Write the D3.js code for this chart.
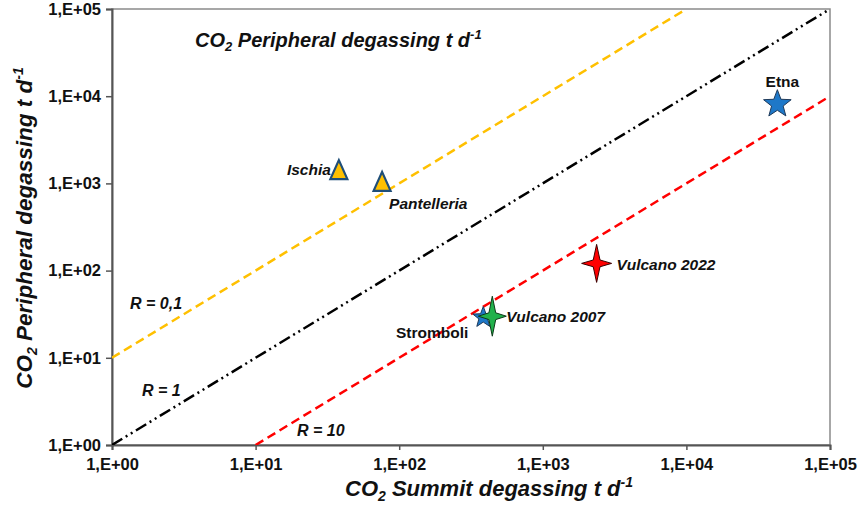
<!DOCTYPE html>
<html><head><meta charset="utf-8">
<script src="https://cdn.jsdelivr.net/npm/d3@7"></script>
<style>
body{margin:0;background:#fff;}
text{font-family:Arial,"Liberation Sans",sans-serif;}
</style></head>
<body><svg id="c" width="858" height="512"></svg>
<script>
// ---- data ----
const volcanoes   = ["Ischia","Pantelleria","Etna","Vulcano 2022","Stromboli","Vulcano 2007"];
const summitFlux  = [38, 76, 43000, 2370, 385, 445];        // t/d
const periphFlux  = [1420, 1040, 8100, 121, 29, 30];        // t/d
const ratioValues = [0.1, 1, 10];
const ratioLabels = ["R = 0,1", "R = 1", "R = 10"];
const tickValues  = [1, 10, 100, 1000, 10000, 100000];
const tickLabels  = ["1,E+00","1,E+01","1,E+02","1,E+03","1,E+04","1,E+05"];

// ---- styles ----
const markerStyle = {
  "Ischia":       {shape:"tri",  fill:"#FFC000", stroke:"#1F4E79", r:10, lx:-8, ly:5, anchor:"end", italic:true},
  "Pantelleria":  {shape:"tri",  fill:"#FFC000", stroke:"#1F4E79", r:10, lx:7, ly:27, anchor:"start", italic:true},
  "Etna":         {shape:"star5",fill:"#1E78C8", stroke:"#1F3A5A", r:14.5, lx:5, ly:-17, anchor:"middle", italic:false},
  "Vulcano 2022": {shape:"star4",fill:"#FF0000", stroke:"#3a0000", rx:15, ry:19, lx:20, ly:7, anchor:"start", italic:true},
  "Stromboli":    {shape:"star5",fill:"#1E78C8", stroke:"#1F3A5A", r:11, lx:-15, ly:21, anchor:"end", italic:false},
  "Vulcano 2007": {shape:"star4",fill:"#22B14C", stroke:"#0c3a18", rx:14, ry:20, lx:14, ly:6, anchor:"start", italic:true}
};
const lineStyle = [
  {color:"#FFC000", dash:"9,5", lx:130, ly:309},
  {color:"#000000", dash:"12,4,2,4,2,4", lx:142, ly:396},
  {color:"#FF0000", dash:"9,5", lx:297, ly:436}
];

const svg = d3.select("#c");
const m = {l:112, r:28, t:9, b:67};
const W = 858, H = 512;
const x = d3.scaleLog().domain([1,1e5]).range([m.l, W-m.r]);
const y = d3.scaleLog().domain([1,1e5]).range([H-m.b, m.t]);

// frame
svg.append("rect").attr("x",x(1)).attr("y",y(1e5)).attr("width",x(1e5)-x(1)).attr("height",y(1)-y(1e5))
  .attr("fill","none").attr("stroke","#8a8a8a").attr("stroke-width",1.5);

// axes
const xAxis = d3.axisBottom(x).tickValues(tickValues).tickFormat((d,i)=>tickLabels[i]).tickSize(5).tickPadding(8);
const yAxis = d3.axisLeft(y).tickValues(tickValues).tickFormat((d,i)=>tickLabels[i]).tickSize(6).tickPadding(5);
const gx = svg.append("g").attr("transform",`translate(0,${y(1)})`).call(xAxis);
const gy = svg.append("g").attr("transform",`translate(${x(1)},0)`).call(yAxis);
[gx,gy].forEach(g=>{
  g.select(".domain").attr("stroke","#555").attr("stroke-width",2);
  g.selectAll(".tick line").attr("stroke","#555").attr("stroke-width",1.5);
  g.selectAll(".tick text").attr("font-size",16.5).attr("font-weight","bold").attr("fill","#111")
    .attr("font-family","Arial,'Liberation Sans',sans-serif");
});

// ratio lines  (peripheral = summit / R)
svg.append("clipPath").attr("id","pc").append("rect")
  .attr("x",x(1)).attr("y",y(1e5)).attr("width",x(1e5)-x(1)).attr("height",y(1)-y(1e5));
ratioValues.forEach((R,i)=>{
  const x0 = Math.max(1, R*1), x1 = Math.min(1e5, R*1e5);
  svg.append("line").attr("clip-path","url(#pc)")
    .attr("x1",x(x0)).attr("y1",y(x0/R)).attr("x2",x(x1)).attr("y2",y(x1/R))
    .attr("stroke",lineStyle[i].color).attr("stroke-width",2.5).attr("stroke-dasharray",lineStyle[i].dash);
  svg.append("text").attr("x",lineStyle[i].lx).attr("y",lineStyle[i].ly)
    .attr("font-size",16).attr("font-weight","bold").attr("font-style","italic").attr("fill","#111")
    .text(ratioLabels[i]);
});

// marker shapes
function star(n, ro, ri, rx, ry){
  const pts=[];
  for(let k=0;k<2*n;k++){
    const a = -Math.PI/2 + k*Math.PI/n;
    const r = k%2===0 ? ro : ri;
    const sx = k%2===0 ? (rx||1) : 1, sy = k%2===0 ? (ry||1) : 1;
    pts.push([Math.cos(a)*r*sx, Math.sin(a)*r*sy]);
  }
  return "M"+pts.map(p=>p.join(",")).join("L")+"Z";
}
function shapePath(s){
  if(s.shape==="tri"){ const r=s.r; return `M0,${-r}L${r*0.85},${r*0.9}L${-r*0.85},${r*0.9}Z`; }
  if(s.shape==="star5"){ return star(5, s.r, s.r*0.42); }
  if(s.shape==="star4"){ return star(4, 1, 4.8, s.rx, s.ry); }
}

volcanoes.forEach((v,i)=>{
  const s = markerStyle[v];
  const cx = x(summitFlux[i]), cy = y(periphFlux[i]);
  svg.append("path").attr("d",shapePath(s)).attr("transform",`translate(${cx},${cy})`)
    .attr("fill",s.fill).attr("stroke",s.stroke).attr("stroke-width",s.shape==="tri"?2.2:1)
    .attr("stroke-linejoin","miter");
  svg.append("text").attr("x",cx+s.lx).attr("y",cy+s.ly).attr("text-anchor",s.anchor)
    .attr("font-size",15.5).attr("font-weight","bold").attr("font-style",s.italic?"italic":"normal")
    .attr("fill","#111").text(v);
});

// title inside plot
const t = svg.append("text").attr("x",195).attr("y",47).attr("font-size",20).attr("font-weight","bold")
  .attr("font-style","italic").attr("fill","#111");
t.append("tspan").text("CO");
t.append("tspan").attr("font-size",13).attr("dy",4).text("2");
t.append("tspan").attr("dy",-4).text(" Peripheral degassing t d");
t.append("tspan").attr("font-size",13).attr("dy",-8).text("-1");

// axis titles
const xt = svg.append("text").attr("x",489).attr("y",496).attr("text-anchor","middle")
  .attr("font-size",22).attr("font-weight","bold").attr("font-style","italic").attr("fill","#111");
xt.append("tspan").text("CO");
xt.append("tspan").attr("font-size",14).attr("dy",5).text("2");
xt.append("tspan").attr("dy",-5).text(" Summit degassing t d");
xt.append("tspan").attr("font-size",14).attr("dy",-9).text("-1");

const yt = svg.append("text").attr("transform","translate(32,228) rotate(-90)").attr("text-anchor","middle")
  .attr("font-size",22.5).attr("font-weight","bold").attr("font-style","italic").attr("fill","#111");
yt.append("tspan").text("CO");
yt.append("tspan").attr("font-size",14).attr("dy",5).text("2");
yt.append("tspan").attr("dy",-5).text(" Peripheral degassing t d");
yt.append("tspan").attr("font-size",14).attr("dy",-9).text("-1");
</script></body></html>
